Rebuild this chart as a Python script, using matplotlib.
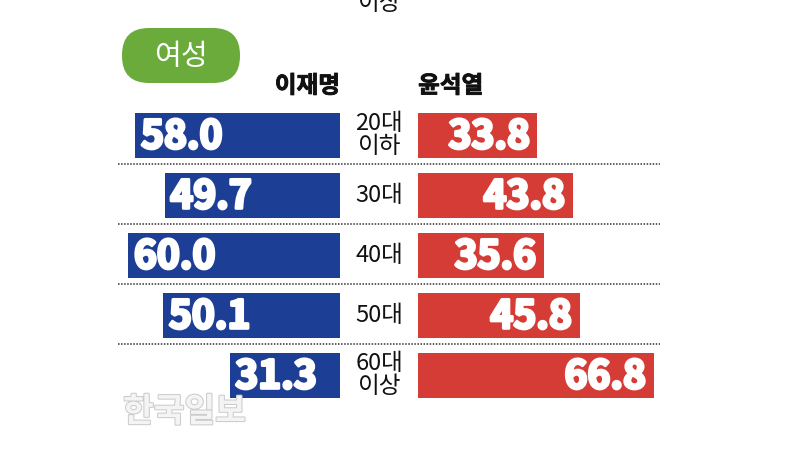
import matplotlib.pyplot as plt
import matplotlib.patheffects as pe
from matplotlib.patches import FancyBboxPatch
from matplotlib.transforms import IdentityTransform

plt.rcParams['font.family'] = ['Noto Sans CJK KR', 'DejaVu Sans']

ages = ['20대\n이하', '30대', '40대', '50대', '60대\n이상']
lee = [58.0, 49.7, 60.0, 50.1, 31.3]
yoon = [33.8, 43.8, 35.6, 45.8, 66.8]

blue = '#1d3e95'
red = '#d63c36'
green = '#6aab3c'
half_gap = 11.05

fig = plt.figure(figsize=(7.97, 4.5), dpi=100)
ax = fig.add_axes([0, 0, 1, 1])
ax.set_xlim(-107.4, 118.4)
ax.set_ylim(5.25, -2.25)
ax.axis('off')

rows = list(range(len(ages)))
ax.barh(rows, [-v for v in lee], left=-half_gap, height=0.75, color=blue)
ax.barh(rows, yoon, left=half_gap, height=0.75, color=red)

heavy = [pe.withStroke(linewidth=2.2, foreground='white')]
for i in rows:
    ax.text(-half_gap - lee[i] + 1.6, i + 0.03, f'{lee[i]:.1f}', color='white',
            fontsize=28, fontweight='bold', ha='left', va='center', path_effects=heavy)
    ax.text(half_gap + yoon[i] - 2.2, i + 0.03, f'{yoon[i]:.1f}', color='white',
            fontsize=28, fontweight='bold', ha='right', va='center', path_effects=heavy)
    ax.text(0, i, ages[i], fontsize=17, ha='center', va='center',
            linespacing=1.0, color='#111111')
    if i < len(ages) - 1:
        ax.plot([-73.9, 79.6], [i + 0.48, i + 0.48], color='#333333',
                lw=1.1, ls=(0, (1, 1.0)))

# headers
bold_hdr = [pe.withStroke(linewidth=0.6, foreground='#111111')]
ax.text(-half_gap, -0.82, '이재명', fontsize=17, fontweight='bold',
        ha='right', va='center', color='#111111', path_effects=bold_hdr)
ax.text(half_gap, -0.82, '윤석열', fontsize=17, fontweight='bold',
        ha='left', va='center', color='#111111', path_effects=bold_hdr)
ax.text(0, -2.2, '이상', fontsize=17, ha='center', va='center', color='#111111')

# "여성" pill (pixel coordinates)
pill = FancyBboxPatch((122, 450 - 83), 118, 55, boxstyle='round,pad=0,rounding_size=27',
                      transform=IdentityTransform(), facecolor=green, edgecolor='none')
fig.patches.append(pill)
fig.text(181 / 797, 1 - 57 / 450, '여성', color='white', fontsize=21,
         ha='center', va='center')

# watermark
ax.text(-72.5, 4.62, '한국일보', fontsize=24, fontweight='bold', color='#f4f4f4',
        ha='left', va='center',
        path_effects=[pe.withStroke(linewidth=1.5, foreground='#cccccc')])

fig.savefig('out.png', dpi=100)
